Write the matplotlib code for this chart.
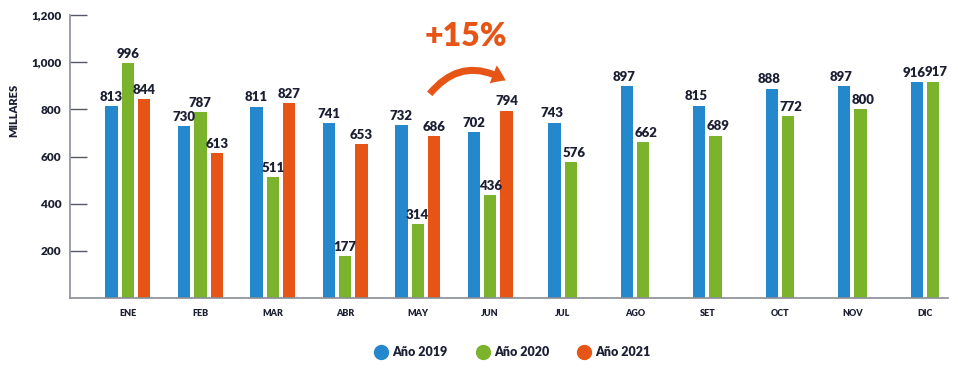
import numpy as np
import matplotlib.pyplot as plt
from matplotlib.lines import Line2D

plt.rcParams['font.family'] = ['Lato', 'DejaVu Sans']

# data (thousands)
months = ['ENE', 'FEB', 'MAR', 'ABR', 'MAY', 'JUN', 'JUL', 'AGO', 'SET', 'OCT', 'NOV', 'DIC']
y2019 = [813, 730, 811, 741, 732, 702, 743, 897, 815, 888, 897, 916]
y2020 = [996, 787, 511, 177, 314, 436, 576, 662, 689, 772, 800, 917]
y2021 = [844, 613, 827, 653, 686, 794]
yticks = [200, 400, 600, 800, 1000, 1200]

c19, c20, c21 = '#2587cc', '#7bb32d', '#e65516'
dark = '#1c1f33'

fig = plt.figure(figsize=(9.58, 3.69), dpi=100)
ax = fig.add_axes([70 / 958, 1 - 298 / 369, 878 / 958, 283 / 369])

x = np.arange(len(months))
w = 0.17
step = 0.225
n21 = len(y2021)

for i in range(len(months)):
    if i < n21:
        xs = [x[i] - step, x[i], x[i] + step]
        vals = [y2019[i], y2020[i], y2021[i]]
        cols = [c19, c20, c21]
        offs = [0, 0, 0]
    else:
        xs = [x[i] - step / 2, x[i] + step / 2]
        vals = [y2019[i], y2020[i]]
        cols = [c19, c20]
        offs = [-0.04, 0.04]
    ax.bar(xs, vals, width=w, color=cols, zorder=2)
    for xx, v, o in zip(xs, vals, offs):
        ax.text(xx + o, v + 14, str(v), ha='center', va='bottom', fontsize=9.5,
                fontweight='heavy', color=dark)

ax.set_xlim(-0.80, 11.32)
ax.set_ylim(0, 1200)
ax.set_yticks(yticks)
ax.set_yticklabels([f'{t:,}' for t in yticks], fontsize=8.5, fontweight='heavy', color=dark)
ax.tick_params(axis='y', direction='in', length=12, width=1, color='#555a66', pad=6)
ax.set_xticks(x)
ax.set_xticklabels(months, fontsize=6.5, fontweight='heavy', color=dark)
ax.tick_params(axis='x', length=0, pad=8)

for s in ['top', 'right']:
    ax.spines[s].set_visible(False)
for s in ['left', 'bottom']:
    ax.spines[s].set_color('#8a8d96')
    ax.spines[s].set_linewidth(1.2)

fig.text(14 / 958, 1 - 110 / 369, 'MILLARES', rotation=90, ha='center', va='center',
         fontsize=8, fontweight='heavy', color=dark)

# +15% callout
fig.text(466 / 958, 1 - 36 / 369, '+15%', ha='center', va='center', fontsize=23,
         fontweight='heavy', color=c21)
ax.annotate('', xy=(508, 369 - 82), xycoords='figure pixels',
            xytext=(428, 369 - 96), textcoords='figure pixels',
            arrowprops=dict(arrowstyle='simple,head_width=1.4,head_length=1.0,tail_width=0.5',
                            connectionstyle='arc3,rad=-0.45', color=c21, lw=0))

handles = [Line2D([0], [0], marker='o', linestyle='', markersize=10, color=c)
           for c in (c19, c20, c21)]
leg = fig.legend(handles, ['Año 2019', 'Año 2020', 'Año 2021'], loc='center',
                 bbox_to_anchor=(512 / 958, 1 - 352 / 369), ncol=3, frameon=False,
                 handletextpad=0.3, columnspacing=2.2, handlelength=1.2,
                 prop={'size': 9, 'weight': 'heavy'})
for t in leg.get_texts():
    t.set_color(dark)

fig.savefig('out.png', dpi=100)
